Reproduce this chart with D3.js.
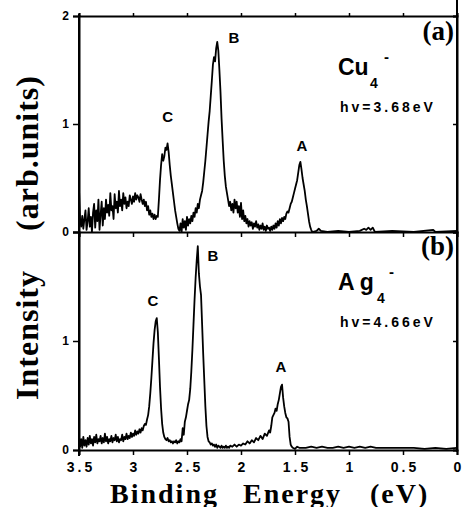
<!DOCTYPE html>
<html>
<head>
<meta charset="utf-8">
<script src="https://cdn.jsdelivr.net/npm/d3@7"></script>
<style>
  html, body { margin: 0; padding: 0; background: #fff; }
  svg { display: block; }
</style>
</head>
<body>
<div id="chart"></div>
<script>
// tick values
const energyTicks = [3.5, 3, 2.5, 2, 1.5, 1, 0.5, 0];
const topYTicks = [0, 1, 2];
const bottomYTicks = [0, 1];

// panel labels
const panels = [
  { tag: "(a)", ion: ["Cu"], photon: "hv=3.68eV" },
  { tag: "(b)", ion: ["A", "g"], photon: "hv=4.66eV" }
];
// peak letters placed in data coords [letter, energy, intensity]
const cuPeaks = [["C", 2.68, 1.02], ["B", 2.065, 1.75], ["A", 1.435, 0.75]];
const agPeaks = [["C", 2.815, 1.32], ["B", 2.26, 1.73], ["A", 1.63, 0.72]];

// [binding energy (eV), intensity]
const cuSpectrum = [
  [3.50,0.40],[3.49,0.12],[3.48,0.05],[3.47,0.15],[3.46,0.03],[3.45,0.12],[3.44,0.20],[3.43,0.02],
  [3.42,0.10],[3.41,0.22],[3.40,0.05],[3.39,0.14],[3.38,0.00],[3.37,0.18],[3.36,0.26],[3.35,0.04],
  [3.34,0.20],[3.33,0.10],[3.32,0.30],[3.31,0.02],[3.30,0.16],[3.29,0.28],[3.28,0.06],[3.27,0.22],
  [3.26,0.12],[3.25,0.30],[3.24,0.18],[3.23,0.25],[3.22,0.15],[3.21,0.36],[3.20,0.20],[3.19,0.24],
  [3.18,0.12],[3.17,0.35],[3.16,0.22],[3.15,0.28],[3.14,0.18],[3.13,0.38],[3.12,0.24],[3.11,0.30],
  [3.10,0.20],[3.09,0.36],[3.08,0.26],[3.07,0.32],[3.06,0.22],[3.05,0.28],[3.04,0.24],[3.03,0.34],
  [3.02,0.30],[3.01,0.26],[3.00,0.33],[2.99,0.28],[2.98,0.36],[2.97,0.30],[2.96,0.34],[2.95,0.32],
  [2.94,0.28],[2.93,0.35],[2.92,0.30],[2.91,0.26],[2.90,0.30],[2.89,0.24],[2.88,0.28],[2.87,0.20],
  [2.86,0.24],[2.85,0.16],[2.84,0.20],[2.83,0.14],[2.82,0.17],[2.81,0.12],[2.80,0.16],[2.79,0.12],
  [2.78,0.15],[2.77,0.14],[2.76,0.30],[2.75,0.48],[2.74,0.62],[2.73,0.72],[2.72,0.66],[2.71,0.70],
  [2.70,0.78],[2.69,0.76],[2.68,0.82],[2.67,0.74],[2.66,0.62],[2.65,0.52],[2.64,0.44],[2.63,0.36],
  [2.62,0.28],[2.61,0.20],[2.60,0.14],[2.59,0.08],[2.58,0.03],[2.57,0.01],[2.56,0.08],[2.55,0.00],
  [2.54,0.12],[2.53,0.04],[2.52,0.10],[2.51,0.02],[2.50,0.14],[2.49,0.06],[2.48,0.12],[2.47,0.08],
  [2.46,0.15],[2.45,0.10],[2.44,0.18],[2.43,0.14],[2.42,0.22],[2.41,0.18],[2.40,0.26],[2.39,0.22],
  [2.38,0.30],[2.37,0.34],[2.36,0.38],[2.35,0.46],[2.34,0.56],[2.33,0.66],[2.32,0.78],[2.31,0.90],
  [2.30,1.02],[2.29,1.12],[2.28,1.26],[2.27,1.40],[2.26,1.55],[2.25,1.62],[2.24,1.58],[2.23,1.70],
  [2.22,1.76],[2.21,1.68],[2.20,1.50],[2.19,1.30],[2.18,1.05],[2.17,0.85],[2.16,0.66],[2.15,0.52],
  [2.14,0.42],[2.13,0.36],[2.12,0.30],[2.11,0.24],[2.10,0.28],[2.09,0.20],[2.08,0.26],[2.07,0.18],
  [2.06,0.30],[2.05,0.22],[2.04,0.28],[2.03,0.18],[2.02,0.24],[2.01,0.14],[2.00,0.27],[1.99,0.12],
  [1.98,0.20],[1.97,0.10],[1.96,0.15],[1.95,0.08],[1.94,0.12],[1.93,0.05],[1.92,0.10],[1.91,0.06],
  [1.90,0.09],[1.89,0.03],[1.88,0.08],[1.87,0.05],[1.86,0.10],[1.85,0.04],[1.84,0.07],[1.83,0.02],
  [1.82,0.06],[1.81,0.03],[1.80,0.08],[1.79,0.02],[1.78,0.05],[1.77,0.01],[1.76,0.06],[1.75,0.03],
  [1.74,0.04],[1.73,0.01],[1.72,0.05],[1.71,0.02],[1.70,0.06],[1.69,0.03],[1.68,0.08],[1.67,0.04],
  [1.66,0.10],[1.65,0.06],[1.64,0.12],[1.63,0.08],[1.62,0.13],[1.61,0.10],[1.60,0.14],[1.59,0.12],
  [1.58,0.17],[1.57,0.19],[1.56,0.18],[1.55,0.22],[1.54,0.26],[1.53,0.28],[1.52,0.32],[1.51,0.36],
  [1.50,0.40],[1.49,0.44],[1.48,0.48],[1.47,0.55],[1.46,0.62],[1.45,0.65],[1.44,0.58],[1.43,0.50],
  [1.42,0.44],[1.41,0.38],[1.40,0.30],[1.39,0.24],[1.38,0.17],[1.37,0.10],[1.36,0.05],[1.35,0.02],
  [1.34,0.00],[1.30,0.01],[1.28,0.03],[1.26,0.01],[1.20,0.00],[1.10,0.01],[1.00,0.00],[0.90,0.01],
  [0.86,0.03],[0.84,0.02],[0.82,0.04],[0.80,0.02],[0.78,0.04],[0.76,0.00],[0.60,0.01],[0.40,0.00],
  [0.22,0.02],[0.20,0.00],[0.00,0.01]
];

const agSpectrum = [
  [3.50,0.12],[3.49,0.03],[3.48,0.10],[3.47,0.02],[3.46,0.12],[3.45,0.04],[3.44,0.09],[3.43,0.03],
  [3.42,0.11],[3.41,0.05],[3.40,0.13],[3.39,0.06],[3.38,0.10],[3.37,0.04],[3.36,0.12],[3.35,0.07],
  [3.34,0.14],[3.33,0.06],[3.32,0.10],[3.31,0.08],[3.30,0.13],[3.29,0.06],[3.28,0.11],[3.27,0.07],
  [3.26,0.15],[3.25,0.08],[3.24,0.12],[3.23,0.06],[3.22,0.10],[3.21,0.08],[3.20,0.13],[3.19,0.07],
  [3.18,0.11],[3.17,0.09],[3.16,0.14],[3.15,0.08],[3.14,0.12],[3.13,0.07],[3.12,0.10],[3.11,0.09],
  [3.10,0.14],[3.09,0.08],[3.08,0.12],[3.07,0.10],[3.06,0.15],[3.05,0.10],[3.04,0.13],[3.03,0.11],
  [3.02,0.16],[3.01,0.12],[3.00,0.15],[2.99,0.13],[2.98,0.18],[2.97,0.14],[2.96,0.17],[2.95,0.15],
  [2.94,0.19],[2.93,0.16],[2.92,0.20],[2.91,0.18],[2.90,0.22],[2.89,0.24],[2.88,0.23],[2.87,0.28],
  [2.86,0.32],[2.85,0.40],[2.84,0.52],[2.83,0.66],[2.82,0.82],[2.81,0.98],[2.80,1.10],[2.79,1.18],
  [2.78,1.21],[2.77,1.08],[2.76,0.84],[2.75,0.58],[2.74,0.38],[2.73,0.24],[2.72,0.16],[2.71,0.12],
  [2.70,0.10],[2.69,0.09],[2.68,0.11],[2.67,0.08],[2.66,0.09],[2.65,0.07],[2.64,0.08],[2.63,0.06],
  [2.62,0.08],[2.61,0.07],[2.60,0.09],[2.59,0.06],[2.58,0.08],[2.57,0.07],[2.56,0.10],[2.55,0.08],
  [2.54,0.20],[2.53,0.14],[2.52,0.26],[2.51,0.30],[2.50,0.36],[2.49,0.42],[2.48,0.46],[2.47,0.56],
  [2.46,0.72],[2.45,0.92],[2.44,1.15],[2.43,1.38],[2.42,1.58],[2.41,1.74],[2.40,1.87],[2.39,1.62],
  [2.38,1.50],[2.37,1.42],[2.36,1.15],[2.35,0.88],[2.34,0.64],[2.33,0.40],[2.32,0.22],[2.31,0.12],
  [2.30,0.08],[2.29,0.07],[2.28,0.05],[2.27,0.06],[2.26,0.04],[2.25,0.05],[2.24,0.03],[2.23,0.05],
  [2.22,0.02],[2.21,0.04],[2.20,0.03],[2.19,0.02],[2.18,0.04],[2.17,0.02],[2.16,0.03],[2.15,0.02],
  [2.14,0.04],[2.13,0.02],[2.12,0.03],[2.11,0.02],[2.10,0.04],[2.08,0.03],[2.06,0.05],[2.04,0.03],
  [2.02,0.05],[2.00,0.04],[1.98,0.06],[1.96,0.05],[1.94,0.08],[1.92,0.06],[1.90,0.09],[1.88,0.07],
  [1.86,0.11],[1.84,0.09],[1.82,0.13],[1.80,0.10],[1.78,0.15],[1.76,0.13],[1.74,0.18],[1.73,0.16],
  [1.72,0.22],[1.71,0.30],[1.70,0.32],[1.69,0.34],[1.68,0.38],[1.67,0.36],[1.66,0.42],[1.65,0.46],
  [1.64,0.52],[1.63,0.58],[1.62,0.60],[1.61,0.48],[1.60,0.40],[1.59,0.34],[1.58,0.30],[1.57,0.29],
  [1.56,0.26],[1.55,0.12],[1.54,0.05],[1.53,0.03],[1.52,0.02],[1.50,0.01],[1.48,0.03],[1.46,0.02],
  [1.40,0.02],[1.35,0.03],[1.30,0.02],[1.25,0.03],[1.20,0.02],[1.15,0.02],[1.10,0.03],[1.05,0.02],
  [1.00,0.03],[0.95,0.02],[0.90,0.03],[0.85,0.02],[0.80,0.03],[0.75,0.02],[0.70,0.02],[0.60,0.02],
  [0.50,0.02],[0.40,0.02],[0.30,0.01],[0.20,0.02],[0.10,0.01],[0.00,0.02]
];

const W = 463, H = 507;
const left = 79, right = 457;
const serif = "'Liberation Serif', 'Times New Roman', serif";
const sans = "'Liberation Sans', Arial, Helvetica, sans-serif";

const svg = d3.select("#chart").append("svg")
  .attr("width", W).attr("height", H)
  .attr("viewBox", `0 0 ${W} ${H}`);

const x = d3.scaleLinear().domain([3.5, 0]).range([left, right]);
const yTop = d3.scaleLinear().domain([0, 2]).range([232, 16]);
const yBot = d3.scaleLinear().domain([0, 2]).range([450, 232]);

function styleAxis(g) {
  g.select(".domain").attr("stroke", "#000").attr("stroke-width", 2);
  g.selectAll(".tick line").attr("stroke", "#000").attr("stroke-width", 1.5);
  g.selectAll("text").attr("fill", "#000");
}

function drawPanel(y, yTicks, spectrum, peaks, info, isBottom) {
  // left axis with labels
  svg.append("g")
    .attr("transform", `translate(${left},0)`)
    .call(d3.axisLeft(y).tickValues(yTicks).tickFormat(d3.format("d")).tickSize(6).tickPadding(4))
    .call(styleAxis)
    .call(g => g.selectAll("text")
      .attr("font-family", sans).attr("font-weight", "bold").attr("font-size", 12));

  // right axis
  svg.append("g")
    .attr("transform", `translate(${right},0)`)
    .call(d3.axisRight(y).tickValues(yTicks).tickFormat("").tickSize(-4))
    .call(styleAxis);

  // top edge only on the upper panel
  if (!isBottom) {
    svg.append("g")
      .attr("transform", `translate(0,${y(2)})`)
      .call(d3.axisTop(x).tickValues(energyTicks).tickFormat("").tickSize(3))
      .call(styleAxis);
  }

  // bottom edge
  const bottomAxis = svg.append("g")
    .attr("transform", `translate(0,${y(0)})`)
    .call(d3.axisBottom(x).tickValues(energyTicks)
      .tickFormat(isBottom ? d => String(d) : "").tickSize(5))
    .call(styleAxis);
  if (isBottom) {
    bottomAxis.selectAll("text")
      .attr("font-family", sans).attr("font-weight", "bold").attr("font-size", 14)
      .attr("letter-spacing", 3)
      .attr("dy", 0).attr("y", 22)
      .attr("dx", 1.5);
  }

  // spectrum
  const line = d3.line().x(d => x(d[0])).y(d => y(d[1]));
  svg.append("path")
    .datum(spectrum)
    .attr("fill", "none")
    .attr("stroke", "#000")
    .attr("stroke-width", 1.8)
    .attr("stroke-linejoin", "round")
    .attr("d", line);

  // peak letters
  svg.append("g").selectAll("text")
    .data(peaks)
    .join("text")
    .attr("x", d => x(d[1]))
    .attr("y", d => y(d[2]))
    .attr("text-anchor", "middle")
    .attr("font-family", sans).attr("font-weight", "bold").attr("font-size", 15)
    .text(d => d[0]);

  // panel tag
  svg.append("text")
    .attr("x", 454).attr("y", y(2) + (isBottom ? 23 : 24))
    .attr("text-anchor", "end")
    .attr("font-family", serif).attr("font-weight", "bold").attr("font-size", 27)
    .text(info.tag);

  // ion label with subscript and charge
  const ionY = y(2) + (isBottom ? 58 : 59);
  const ion = svg.append("text")
    .attr("x", 338).attr("y", ionY)
    .attr("font-family", sans).attr("font-weight", "bold").attr("font-size", 23);
  info.ion.forEach((s, i) => ion.append("tspan").attr("dx", i ? 5 : 0).text(s));
  svg.append("text")
    .attr("x", isBottom ? 377 : 370).attr("y", ionY + 13)
    .attr("font-family", sans).attr("font-weight", "bold").attr("font-size", 14)
    .text("4");
  svg.append("text")
    .attr("x", isBottom ? 389 : 384).attr("y", ionY - 13)
    .attr("font-family", sans).attr("font-weight", "bold").attr("font-size", 15)
    .text("-");

  svg.append("text")
    .attr("x", 340).attr("y", ionY + 37)
    .attr("font-family", sans).attr("font-weight", "bold").attr("font-size", 14)
    .attr("letter-spacing", 3)
    .text(info.photon);
}

drawPanel(yTop, topYTicks, cuSpectrum, cuPeaks, panels[0], false);
drawPanel(yBot, bottomYTicks, agSpectrum, agPeaks, panels[1], true);

// continuous frame sides
svg.append("line").attr("x1", left).attr("x2", left).attr("y1", 14).attr("y2", 456)
  .attr("stroke", "#000").attr("stroke-width", 2);
svg.append("line").attr("x1", right).attr("x2", right).attr("y1", 0).attr("y2", 452)
  .attr("stroke", "#000").attr("stroke-width", 2);

// axis titles
const yTitle = [["Intensity", 335], ["(arb.units)", 153]];
svg.append("g").selectAll("text")
  .data(yTitle)
  .join("text")
  .attr("transform", d => `translate(38,${d[1]}) rotate(-90)`)
  .attr("text-anchor", "middle")
  .attr("font-family", serif).attr("font-weight", "bold").attr("font-size", 32)
  .attr("letter-spacing", 1)
  .text(d => d[0]);

const xTitle = [["Binding", 110], ["Energy", 243], ["(eV)", 370]];
svg.append("g").selectAll("text")
  .data(xTitle)
  .join("text")
  .attr("x", d => d[1]).attr("y", 503)
  .attr("font-family", serif).attr("font-weight", "bold").attr("font-size", 28)
  .attr("letter-spacing", 2)
  .text(d => d[0]);
</script>
</body>
</html>
